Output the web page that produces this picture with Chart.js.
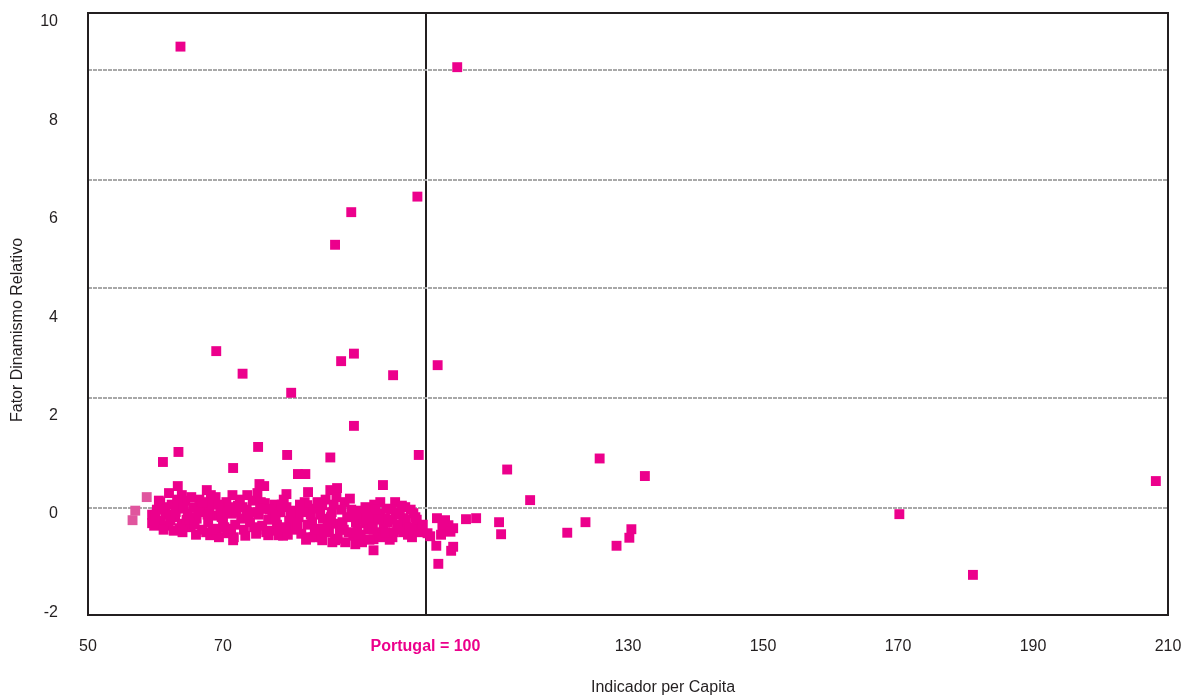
<!DOCTYPE html>
<html lang="pt">
<head>
<meta charset="utf-8">
<title>Fator Dinamismo Relativo / Indicador per Capita</title>
<script src="https://cdn.jsdelivr.net/npm/chart.js@4.4.1/dist/chart.umd.min.js"></script>
<style>
  html, body { margin: 0; padding: 0; background: #fff; }
  #wrap { width: 1190px; height: 699px; position: relative; }
</style>
</head>
<body>
<div id="wrap"><canvas id="grafico"></canvas></div>
<script>
// [indicador per capita, fator dinamismo relativo]
const pontosAltos = [
  [63.7, 9.33], [104.7, 8.92], [98.8, 6.34], [89.0, 6.03], [86.6, 5.38],
  [69.0, 3.26], [89.4, 3.21], [87.5, 3.06], [101.8, 2.98], [72.9, 2.81],
  [95.2, 2.78], [80.1, 2.43], [89.4, 1.77], [75.2, 1.35], [99.0, 1.19],
  [63.4, 1.25], [79.5, 1.19], [85.9, 1.14], [61.1, 1.05], [71.5, 0.93]
];

// nuvem densa à esquerda de Portugal = 100
const pontosNucleo = [
  [63.3, 0.57], [62.0, 0.43], [63.9, 0.39], [67.6, 0.49], [60.7, 0.25],
  [59.5, 0.00], [59.5, -0.17], [68.2, 0.39], [71.4, 0.39], [73.6, 0.39],
  [75.1, 0.43], [75.4, 0.61], [76.1, 0.57], [79.4, 0.41], [81.1, 0.81],
  [82.2, 0.81], [82.6, 0.45], [85.9, 0.49], [86.9, 0.53], [93.7, 0.59],
  [88.0, 0.25], [93.3, 0.25], [95.5, 0.25], [97.0, 0.15], [98.2, 0.03],
  [99.4, -0.25], [91.5, 0.09], [94.0, -0.07], [96.7, -0.07], [95.1, -0.45],
  [92.3, -0.49], [92.3, -0.71], [89.6, -0.59], [86.6, -0.51], [98.0, -0.45],
  [91.1, -0.17], [71.5, -0.51], [76.7, -0.41], [78.2, -0.41], [82.9, -0.45],
  [84.7, -0.51], [86.2, -0.55], [68.1, -0.41], [70.6, -0.37], [63.6, -0.27],
  [76.2, 0.23], [78.2, 0.05], [82.5, 0.19], [84.7, 0.19],
  [60.2, 0.10], [60.8, -0.12], [61.5, 0.05], [61.9, -0.22], [62.4, 0.20],
  [62.9, -0.05], [63.5, 0.12], [63.9, -0.18], [64.4, 0.28], [64.8, 0.02],
  [65.2, -0.25], [65.6, 0.15], [66.1, -0.08], [66.5, 0.30], [66.9, -0.30],
  [67.3, 0.08], [67.8, -0.15], [68.3, 0.22], [68.7, -0.02], [69.1, -0.28],
  [69.6, 0.12], [70.0, -0.12], [70.5, 0.25], [70.9, -0.35], [71.3, 0.02],
  [71.8, -0.20], [72.2, 0.18], [72.7, -0.08], [73.1, -0.30], [73.5, 0.10],
  [74.0, -0.15], [74.4, 0.28], [74.9, -0.38], [75.3, 0.00], [75.8, -0.22],
  [76.2, 0.12], [76.7, -0.10], [77.1, -0.32], [77.6, 0.20], [78.0, -0.20],
  [78.5, 0.05], [78.9, -0.42], [79.4, 0.15], [79.8, -0.12], [80.3, -0.30],
  [80.7, 0.08], [81.2, -0.05], [81.6, -0.38], [82.1, 0.25], [82.5, -0.20],
  [83.0, 0.00], [83.4, -0.45], [83.9, 0.12], [84.3, -0.28], [84.8, -0.08],
  [85.2, 0.30], [85.7, -0.35], [86.1, 0.05], [86.6, -0.18], [87.0, -0.48],
  [87.5, 0.10], [87.9, -0.30], [88.4, -0.05], [88.8, 0.32], [89.3, -0.42],
  [89.7, -0.15], [90.2, 0.08], [90.6, -0.55], [91.1, 0.15], [91.5, -0.30],
  [92.0, -0.08], [92.4, 0.20], [92.9, -0.35], [93.3, 0.02], [93.8, -0.22],
  [94.2, 0.12], [94.7, -0.50], [95.1, -0.10], [95.6, 0.05], [96.0, -0.30],
  [96.5, 0.18], [96.9, -0.20], [97.4, -0.40], [97.8, 0.10], [98.3, -0.25],
  [98.7, -0.10], [99.2, -0.35], [99.6, -0.20],
  [59.8, -0.22], [60.5, 0.28], [61.2, -0.30], [62.0, 0.00], [62.7, -0.32],
  [63.2, 0.30], [64.0, -0.35], [64.6, -0.10], [65.3, 0.35], [66.0, -0.40],
  [66.8, 0.18], [67.5, -0.35], [68.0, 0.05], [68.9, 0.35], [69.4, -0.45],
  [70.2, -0.25], [71.0, 0.15], [71.6, -0.45], [72.5, 0.30], [73.3, -0.42],
  [74.2, 0.05], [75.0, -0.30], [75.6, 0.25], [76.4, -0.35], [77.3, 0.00],
  [78.2, -0.30], [79.0, 0.30], [79.6, -0.40], [80.5, -0.15], [81.4, 0.20],
  [82.3, -0.50], [83.2, -0.15], [84.0, 0.25], [84.6, -0.45], [85.5, -0.20],
  [86.4, 0.20], [87.3, -0.30], [88.1, -0.55], [89.0, 0.10], [89.9, -0.30],
  [90.8, -0.10], [91.7, -0.50], [92.6, 0.10], [93.5, -0.45], [94.4, -0.15],
  [95.3, -0.35], [96.2, 0.00], [97.1, -0.10], [98.0, -0.30],
  [60.0, 0.00], [61.0, 0.15], [62.2, -0.12], [63.0, 0.05], [64.2, 0.15],
  [65.0, -0.05], [65.8, -0.20], [66.3, 0.05], [67.0, 0.25], [67.7, 0.00],
  [68.5, -0.30], [69.3, 0.20], [69.8, -0.05], [70.7, 0.05], [71.2, -0.28],
  [72.0, 0.05], [72.9, 0.15], [73.8, -0.05], [74.6, -0.25], [75.5, 0.12],
  [76.9, 0.10], [77.8, -0.05], [78.7, 0.20], [79.2, -0.25], [80.0, 0.05],
  [81.0, -0.22], [81.9, 0.05], [83.6, -0.30], [84.4, 0.00], [85.0, -0.35],
  [86.0, -0.05], [86.8, 0.35], [87.7, -0.15], [88.6, -0.35], [89.5, 0.00],
  [90.4, -0.40], [91.3, -0.05], [92.2, -0.25], [93.0, -0.10], [94.0, -0.35],
  [94.9, 0.10], [95.8, -0.20], [96.7, -0.35], [97.6, -0.25], [98.5, -0.05]
];

const pontosDireita = [
  [125.8, 1.12], [112.1, 0.90], [132.5, 0.77], [208.2, 0.67], [115.5, 0.29],
  [170.2, 0.01], [181.1, -1.20],
  [101.7, -0.07], [102.9, -0.11], [102.5, -0.21], [103.4, -0.21], [104.1, -0.27],
  [102.3, -0.40], [103.7, -0.34], [106.0, -0.09], [107.5, -0.07], [110.9, -0.15],
  [111.2, -0.39], [100.3, -0.37], [100.7, -0.43], [101.6, -0.62],
  [104.1, -0.64], [103.8, -0.72], [101.9, -0.98], [121.0, -0.36], [123.7, -0.15],
  [130.5, -0.29], [130.2, -0.46], [128.3, -0.62]
];

// três pontos em rosa mais claro à esquerda
const pontosClaros = [[58.7, 0.35], [57.0, 0.08], [56.6, -0.11]];

const xTicks = [50, 70, 100, 130, 150, 170, 190, 210];
const yTicks = [-2, 0, 2, 4, 6, 8, 10];
const linhasGrelha = [0.13, 2.32, 4.51, 6.68, 8.87];
const rotuloPortugal = 'Portugal = 100';
const tituloX = 'Indicador per Capita';
const tituloY = 'Fator Dinamismo Relativo';

const magenta = '#EC008C';
const rosaClaro = '#E0559E';
const preto = '#231F20';
const fonte = "'Liberation Sans', Arial, Helvetica, sans-serif";

function toXY(lista) {
  return lista.map(p => ({ x: p[0], y: p[1] }));
}

// títulos dos eixos desenhados à mão para ficarem onde estão no original
const titulosEixos = {
  id: 'titulosEixos',
  afterDraw(chart) {
    const { ctx, chartArea } = chart;
    ctx.save();
    ctx.fillStyle = preto;
    ctx.font = '16px ' + fonte;
    ctx.textAlign = 'center';
    ctx.textBaseline = 'middle';
    ctx.fillText(tituloX, chartArea.left + 575, chartArea.bottom + 73);
    ctx.translate(chartArea.left - 70, chartArea.top + 317);
    ctx.rotate(-Math.PI / 2);
    ctx.fillText(tituloY, 0, 0);
    ctx.restore();
  }
};

const serie = (dados, cor) => ({
  data: toXY(dados),
  xAxisID: 'x',
  yAxisID: 'yDados',
  backgroundColor: cor,
  borderColor: cor,
  borderWidth: 0,
  pointStyle: 'rect',
  pointRadius: 7,
  pointHoverRadius: 7
});

new Chart(document.getElementById('grafico'), {
  type: 'scatter',
  data: {
    datasets: [
      serie([...pontosAltos, ...pontosNucleo, ...pontosDireita], magenta),
      serie(pontosClaros, rosaClaro)
    ]
  },
  options: {
    responsive: true,
    maintainAspectRatio: false,
    animation: false,
    layout: { padding: { top: 13, right: 22, bottom: 0, left: 0 } },
    plugins: { legend: { display: false }, tooltip: { enabled: false } },
    scales: {
      x: {
        type: 'linear',
        position: 'bottom',
        min: 50,
        max: 210,
        z: 1,
        afterBuildTicks: s => { s.ticks = xTicks.map(v => ({ value: v })); },
        afterFit: s => { s.height = 84; },
        ticks: {
          padding: 0,
          autoSkip: false,
          maxRotation: 0,
          color: c => (c.tick && c.tick.value === 100 ? magenta : preto),
          font: c => ({ family: fonte, size: 16, weight: c.tick && c.tick.value === 100 ? 'bold' : 'normal' }),
          callback: v => (v === 100 ? rotuloPortugal : v)
        },
        grid: {
          drawTicks: true,
          tickLength: 22,
          tickColor: 'rgba(0,0,0,0)',
          lineWidth: 2,
          color: c => (c.tick && c.tick.value === 100 ? preto : 'rgba(0,0,0,0)')
        },
        border: { display: true, color: preto, width: 2 }
      },
      xTopo: {
        type: 'linear',
        position: 'top',
        min: 50,
        max: 210,
        afterFit: s => { s.height = 0; },
        ticks: { display: false, padding: 0 },
        grid: { display: false, drawTicks: false },
        border: { display: true, color: preto, width: 2 }
      },
      // eixo só dos rótulos: no original estão ligeiramente comprimidos em relação à moldura
      y: {
        type: 'linear',
        position: 'left',
        min: -2.05,
        max: 10.18,
        afterBuildTicks: s => { s.ticks = yTicks.map(v => ({ value: v })); },
        afterFit: s => { s.width = 88; },
        ticks: { padding: 0, color: preto, font: { family: fonte, size: 16 } },
        grid: { display: false, drawTicks: true, tickLength: 30 },
        border: { display: true, color: preto, width: 2 }
      },
      yDados: {
        type: 'linear',
        position: 'right',
        min: -2,
        max: 10,
        afterBuildTicks: s => { s.ticks = linhasGrelha.map(v => ({ value: v })); },
        afterFit: s => { s.width = 0; },
        ticks: { display: false, padding: 0 },
        grid: { drawTicks: false, color: '#a8a8a8', lineWidth: 2 },
        border: { display: true, color: preto, width: 2, dash: [4, 1] }
      }
    }
  },
  plugins: [titulosEixos]
});
</script>
</body>
</html>
